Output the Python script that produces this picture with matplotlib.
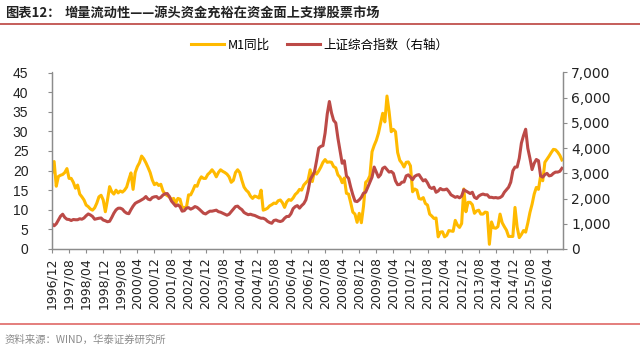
import numpy as np
import matplotlib.pyplot as plt
from matplotlib.lines import Line2D
from matplotlib.ticker import FuncFormatter

plt.rcParams['font.family'] = ['Noto Sans CJK SC', 'DejaVu Sans']

# monthly data, 1996/12 .. 2016/11
m1_yoy = [
    19.5,
    22.3, 16.0, 18.5, 18.8, 19.0, 19.5, 20.5, 18.0, 18.0, 17.0, 15.5, 16.3,   # 1997
    14.0, 13.3, 12.5, 11.2, 10.8, 10.2, 9.9, 10.5, 11.7, 13.3, 13.7, 12.5,    # 1998
    9.5, 12.5, 15.9, 14.6, 14.0, 15.0, 14.3, 14.8, 14.5, 15.0, 15.8, 17.7,    # 1999
    19.4, 15.2, 19.5, 21.0, 22.0, 23.7, 23.0, 22.0, 20.8, 19.5, 17.6, 16.4,   # 2000
    16.8, 16.2, 16.5, 14.8, 14.0, 13.6, 13.3, 12.6, 12.9, 11.7, 12.9, 12.7,   # 2001
    10.6, 10.6, 10.6, 13.8, 13.8, 14.9, 16.2, 16.0, 17.5, 18.4, 18.0, 18.0,   # 2002
    19.0, 19.5, 20.2, 19.5, 18.4, 19.5, 20.2, 19.8, 19.5, 19.1, 18.4, 17.0,   # 2003
    17.5, 19.5, 20.2, 19.5, 17.5, 15.8, 15.0, 14.5, 13.5, 12.9, 13.5, 13.3,   # 2004
    13.0, 15.0, 9.9, 10.1, 10.4, 11.0, 11.3, 11.7, 11.6, 12.3, 12.5, 11.8,    # 2005
    10.6, 12.0, 12.6, 12.4, 13.0, 13.9, 14.4, 15.2, 15.0, 16.3, 16.9, 17.5,   # 2006
    20.2, 17.2, 19.8, 19.1, 19.9, 20.9, 22.1, 22.8, 22.1, 22.2, 22.1, 21.0,   # 2007
    20.7, 18.9, 18.3, 16.9, 18.1, 14.2, 14.0, 11.8, 9.4, 8.9, 6.8, 9.1,       # 2008
    6.7, 10.9, 17.0, 17.5, 18.7, 24.8, 26.4, 27.7, 29.5, 32.0, 34.6, 32.4,    # 2009
    39.0, 35.0, 29.9, 30.5, 29.9, 24.6, 22.6, 21.9, 20.9, 22.1, 22.2, 21.2,   # 2010
    14.6, 15.3, 15.0, 12.9, 12.7, 13.1, 11.6, 11.2, 8.9, 8.4, 7.8, 7.9,       # 2011
    3.1, 4.3, 4.4, 3.1, 3.5, 4.7, 4.6, 4.5, 7.3, 6.1, 5.5, 6.5,               # 2012
    15.3, 9.5, 11.9, 11.9, 11.3, 9.1, 9.7, 9.9, 8.9, 8.9, 9.4, 9.3,           # 2013
    1.2, 6.9, 5.4, 5.3, 5.7, 8.9, 6.7, 5.7, 4.8, 3.2, 3.2, 3.2,               # 2014
    10.6, 5.6, 2.9, 3.7, 4.7, 4.3, 6.6, 9.3, 11.4, 14.0, 15.7, 15.2,          # 2015
    18.6, 17.4, 22.1, 22.9, 23.7, 24.6, 25.4, 25.3, 24.7, 23.9, 22.7,         # 2016
]

sse_index = [
    1000,
    920, 1000, 1150, 1300, 1380, 1250, 1180, 1170, 1130, 1170, 1160, 1160,
    1200, 1180, 1230, 1320, 1390, 1350, 1290, 1180, 1200, 1220, 1230, 1150,
    1120, 1080, 1100, 1250, 1420, 1550, 1617, 1620, 1580, 1480, 1420, 1400,
    1560, 1700, 1810, 1860, 1900, 1950, 2000, 2080, 1980, 1950, 2040, 2070,
    2080, 2000, 2050, 2140, 2190, 2200, 2080, 1900, 1800, 1700, 1750, 1680,
    1500, 1520, 1620, 1640, 1580, 1620, 1683, 1650, 1580, 1500, 1420, 1390,
    1450, 1500, 1500, 1520, 1540, 1480, 1460, 1420, 1380, 1340, 1380, 1480,
    1580, 1683, 1700, 1620, 1560, 1450, 1400, 1360, 1380, 1350, 1330, 1290,
    1250, 1220, 1220, 1180, 1100, 1050, 1020, 1130, 1150, 1110, 1090, 1120,
    1220, 1290, 1290, 1400, 1600, 1680, 1720, 1620, 1720, 1800, 1950, 2300,
    2750, 2900, 3050, 3500, 4000, 4070, 4100, 4600, 5350, 5850, 5400, 5100,
    5000, 4400, 3900, 3400, 3500, 2900, 2800, 2450, 2150, 1900, 1880, 1950,
    2050, 2215, 2250, 2450, 2650, 2850, 3250, 3050, 2850, 2950, 3200, 3250,
    3150, 3050, 3075, 3000, 2700, 2550, 2560, 2650, 2660, 2900, 2940, 2850,
    2750, 2880, 2930, 2950, 2820, 2700, 2750, 2620, 2450, 2400, 2450, 2250,
    2300, 2400, 2350, 2350, 2380, 2280, 2150, 2100, 2050, 2080, 2030, 2100,
    2350, 2300, 2250, 2200, 2250, 2050, 2000, 2100, 2150, 2180, 2150, 2150,
    2050, 2050, 2030, 2040, 2020, 2040, 2100, 2250, 2350, 2450, 2650, 3100,
    3250, 3250, 3600, 4200, 4500, 4750, 4000, 3600, 3150, 3400, 3550, 3500,
    2900, 2850, 2950, 3000, 2900, 2920, 3000, 3050, 3050, 3080, 3200,
]

# one label every 8 months
tick_labels = ['1996/12', '1997/08', '1998/04', '1998/12', '1999/08', '2000/04',
               '2000/12', '2001/08', '2002/04', '2002/12', '2003/08', '2004/04',
               '2004/12', '2005/08', '2006/04', '2006/12', '2007/08', '2008/04',
               '2008/12', '2009/08', '2010/04', '2010/12', '2011/08', '2012/04',
               '2012/12', '2013/08', '2014/04', '2014/12', '2015/08', '2016/04']

YELLOW = '#FFBA00'
RED = '#BC4A47'
GREY = '#8C8C8C'

fig = plt.figure(figsize=(6.4, 3.5), dpi=100)
ax = fig.add_axes([52/640, 1 - 249/350, 511/640, 176.5/350])
x = np.arange(len(m1_yoy))
l1, = ax.plot(x, m1_yoy, color=YELLOW, lw=2.2, label='M1同比', solid_joinstyle='round')

ax2 = ax.twinx()
l2, = ax2.plot(x, sse_index, color=RED, lw=2.2, label='上证综合指数（右轴）',
               solid_joinstyle='round')

ax.set_xlim(0, 239.5)
ax.set_ylim(0, 45)
ax.set_yticks(np.arange(0, 46, 5))
ax2.set_ylim(0, 7000)
ax2.set_yticks(np.arange(0, 7001, 1000))
ax2.yaxis.set_major_formatter(FuncFormatter(lambda v, p: f'{int(v):,}'))

ax.set_xticks(np.arange(len(tick_labels)) * 8)
ax.set_xticklabels(tick_labels, rotation=90, family='DejaVu Sans', fontsize=9)

for a in (ax, ax2):
    a.spines['top'].set_visible(False)
    for s in ('left', 'right', 'bottom'):
        a.spines[s].set_color(GREY)
        a.spines[s].set_linewidth(0.9)
    a.tick_params(colors=GREY, length=3, width=0.8, labelcolor='#222222')

ax.tick_params(axis='y', pad=14, labelsize=10)
for t in ax.get_yticklabels():
    t.set_family('Liberation Sans')
ax.tick_params(axis='x', pad=3)
ax2.tick_params(axis='y', pad=3, labelsize=10)
for t in ax2.get_yticklabels():
    t.set_family('DejaVu Sans')

fig.legend([l1, l2], ['M1同比', '上证综合指数（右轴）'], loc='center',
           bbox_to_anchor=(0.5, 1 - 45/350), ncol=2, frameon=False, fontsize=9,
           handlelength=2.6, handletextpad=0.3, columnspacing=1.4)

fig.text(5/640, 1 - 13/350, '图表12：', fontsize=9.5, fontweight='bold',
         va='center', color='#222222')
fig.text(65/640, 1 - 13/350, '增量流动性——源头资金充裕在资金面上支撑股票市场',
         fontsize=9.5, fontweight='bold', va='center', color='#222222')
fig.add_artist(Line2D([0, 1], [1 - 23.5/350] * 2, color='#C0504D', lw=1.3))
fig.add_artist(Line2D([0, 1], [1 - 324/350] * 2, color='#E27472', lw=1.3))
fig.text(5/640, 1 - 340/350, '资料来源：WIND，华泰证券研究所', fontsize=7.5,
         va='center', color='#8A8A8A')

fig.savefig('out.png', dpi=100)
